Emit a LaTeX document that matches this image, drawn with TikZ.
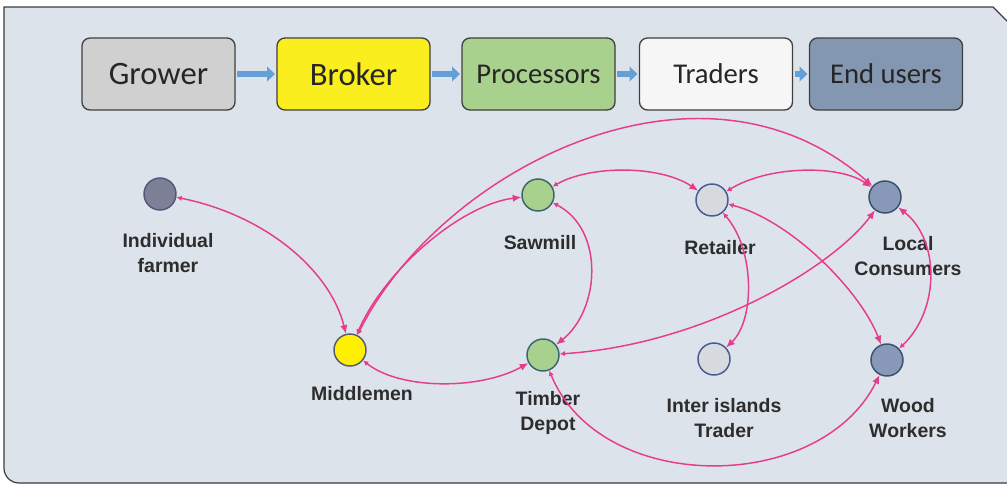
\documentclass[tikz,border=0pt]{standalone}
\usepackage{fontspec}
\setmainfont{Liberation Sans}
\newfontfamily\stagefont{Carlito}
\usepackage{xcolor}
\definecolor{panelbg}{RGB}{221,227,235}
\definecolor{frameline}{RGB}{60,60,60}
\definecolor{stageline}{RGB}{64,64,64}
\definecolor{growergrey}{RGB}{208,208,208}
\definecolor{brokeryellow}{RGB}{250,238,30}
\definecolor{procgreen}{RGB}{169,209,142}
\definecolor{traderwhite}{RGB}{246,246,246}
\definecolor{enduserblue}{RGB}{132,151,176}
\definecolor{stagearrow}{RGB}{100,160,215}
\definecolor{linkpink}{RGB}{230,60,140}
\definecolor{labelgrey}{RGB}{45,45,45}
\usepackage{tikz}
\usetikzlibrary{arrows.meta}
\tikzset{
    stage/.style={draw=stageline, line width=1pt, rounded corners=6pt, minimum width=114.75pt, minimum height=54pt, text=black!85},
    stage-big/.style={stage, font=\stagefont\fontsize{24.5}{28}\selectfont},
    stage-small/.style={stage, font=\stagefont\fontsize{21.5}{25}\selectfont},
    stage-arrow/.style={draw=stagearrow, line width=5pt, -{Triangle[length=6pt, width=11pt]}, shorten <=1pt, shorten >=1pt},
    actor/.style={draw, circle, line width=1.1pt, minimum size=24pt, inner sep=0pt},
    actor-text/.style={anchor=north, inner sep=0pt, align=center, text=labelgrey, font=\bfseries\fontsize{14.6}{18.8}\selectfont},
    link/.style={draw=linkpink, line width=1.1pt, {Latex[length=4pt, width=4pt]}-{Latex[length=6.5pt, width=5.5pt]}}
}

\begin{document}
\begin{tikzpicture}[x=0.75pt, y=-0.75pt]
    \useasboundingbox (0,0) rectangle (1007,487);
    % panel
    \fill[white] (0,0) rectangle (1007,487);
    \fill[panelbg] (4,7) -- (993,7) -- (1010,24) -- (1010,483) -- (19,483) arc (90:180:15) -- cycle;
    \draw[frameline, line width=0.9pt] (1010,24) -- (993,7) -- (4,7) -- (4,468) arc (180:90:15) -- (1010,483);

    % value chain
    \node[stage-big, fill=growergrey] (grower) at (158.5,74) {Grower};
    \node[stage-big, fill=brokeryellow] (broker) at (353.5,74) {Broker};
    \node[stage-small, fill=procgreen] (processors) at (538.5,74) {Processors};
    \node[stage-small, fill=traderwhite] (traders) at (716,74) {Traders};
    \node[stage-small, fill=enduserblue] (end-users) at (886,74) {End users};

    \draw[stage-arrow] (grower) -- (broker);
    \draw[stage-arrow] (broker) -- (processors);
    \draw[stage-arrow] (processors) -- (traders);
    \draw[stage-arrow] (traders) -- (end-users);

    % actors
    \node[actor, draw={rgb,255:red,80;green,90;blue,120}, fill={rgb,255:red,125;green,128;blue,150}] (farmer) at (160,194) {};
    \node[actor, draw={rgb,255:red,90;green,90;blue,110}, fill={rgb,255:red,255;green,240;blue,0}] (middlemen) at (350,350) {};
    \node[actor, draw={rgb,255:red,60;green,100;blue,110}, fill=procgreen] (sawmill) at (538,195) {};
    \node[actor, draw={rgb,255:red,60;green,100;blue,110}, fill=procgreen] (timber-depot) at (543,355) {};
    \node[actor, draw={rgb,255:red,70;green,90;blue,150}, fill={rgb,255:red,215;green,218;blue,222}] (retailer) at (712,200) {};
    \node[actor, draw={rgb,255:red,70;green,90;blue,150}, fill={rgb,255:red,215;green,218;blue,222}] (inter-islands) at (714,359) {};
    \node[actor, draw={rgb,255:red,60;green,80;blue,110}, fill={rgb,255:red,135;green,152;blue,185}] (local-consumers) at (885,197) {};
    \node[actor, draw={rgb,255:red,60;green,80;blue,110}, fill={rgb,255:red,135;green,152;blue,185}] (wood-workers) at (887,360) {};

    \node[actor-text] (farmer-text) at (168,233) {Individual\\farmer};
    \node[actor-text] (middlemen-text) at (362,386) {Middlemen};
    \node[actor-text] (sawmill-text) at (540,235) {Sawmill};
    \node[actor-text] (timber-depot-text) at (548,391) {Timber\\Depot};
    \node[actor-text] (retailer-text) at (720,240) {Retailer};
    \node[actor-text] (inter-islands-text) at (724,398) {Inter islands\\Trader};
    \node[actor-text] (local-consumers-text) at (908,236) {Local\\Consumers};
    \node[actor-text] (wood-workers-text) at (908,398) {Wood\\Workers};

    % flows
    \draw[link] (farmer) .. controls (265,215) and (330,270) .. (middlemen);
    \draw[link] (middlemen) .. controls (385,270) and (460,205) .. (sawmill);
    \draw[link] (middlemen) .. controls (440,170) and (700,35) .. (local-consumers);
    \draw[link] (middlemen) .. controls (400,390) and (480,390) .. (timber-depot);
    \draw[link] (sawmill) .. controls (590,165) and (660,165) .. (retailer);
    \draw[link] (sawmill) .. controls (605,230) and (600,310) .. (timber-depot);
    \draw[link] (retailer) .. controls (770,165) and (840,165) .. (local-consumers);
    \draw[link] (retailer) .. controls (755,250) and (755,320) .. (inter-islands);
    \draw[link] (retailer) .. controls (790,220) and (860,290) .. (wood-workers);
    \draw[link] (wood-workers) .. controls (940,310) and (940,240) .. (local-consumers);
    \draw[link] (timber-depot) .. controls (700,345) and (830,270) .. (local-consumers);
    \draw[link] (timber-depot) .. controls (600,495) and (820,495) .. (wood-workers);
\end{tikzpicture}
\end{document}
